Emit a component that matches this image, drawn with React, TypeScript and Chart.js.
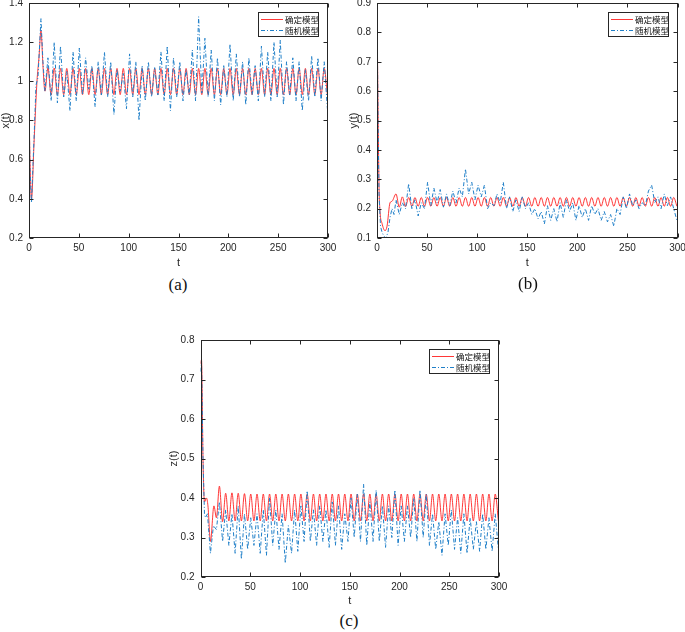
import React, { useEffect, useRef } from 'react';
import { Chart, registerables } from 'chart.js';

Chart.register(...registerables);

// ---------- shared time grid of the steady oscillation (extrema of the deterministic cycle) ----------
const tSteady = [
  19.0, 22.2, 25.3, 28.5, 31.6, 34.8, 37.9, 41.1, 44.2, 47.4,
  50.5, 53.7, 56.8, 60.0, 63.1, 66.3, 69.4, 72.6, 75.7, 78.9,
  82.0, 85.2, 88.3, 91.5, 94.6, 97.8, 100.9, 104.1, 107.2, 110.4,
  113.5, 116.7, 119.8, 123.0, 126.1, 129.3, 132.4, 135.6, 138.7, 141.9,
  145.0, 148.2, 151.3, 154.5, 157.6, 160.8, 163.9, 167.1, 170.2, 173.4,
  176.5, 179.7, 182.8, 186.0, 189.1, 192.3, 195.4, 198.6, 201.7, 204.9,
  208.0, 211.2, 214.3, 217.5, 220.6, 223.8, 226.9, 230.1, 233.2, 236.4,
  239.5, 242.7, 245.8, 249.0, 252.1, 255.3, 258.4, 261.6, 264.7, 267.9,
  271.0, 274.2, 277.3, 280.5, 283.6, 286.8, 289.9, 293.1, 296.2, 299.4,
];

// ---------- (a) x(t) ----------
const tHeadDetA = [0, 1, 2.5, 5, 8, 10, 12, 14, 16];
const headDetA = [0.9, 0.6, 0.4, 0.68, 1.0, 1.12, 1.26, 1.08, 0.95];
const steadyDetA = [
  1.07, 0.93, 1.068, 0.932, 1.066, 0.932, 1.066, 0.932, 1.066, 0.932,
  1.066, 0.932, 1.066, 0.932, 1.066, 0.932, 1.066, 0.932, 1.066, 0.932,
  1.066, 0.932, 1.066, 0.932, 1.066, 0.932, 1.066, 0.932, 1.066, 0.932,
  1.066, 0.932, 1.066, 0.932, 1.066, 0.932, 1.066, 0.932, 1.066, 0.932,
  1.066, 0.932, 1.066, 0.932, 1.066, 0.932, 1.066, 0.932, 1.066, 0.932,
  1.066, 0.932, 1.066, 0.932, 1.066, 0.932, 1.066, 0.932, 1.066, 0.932,
  1.066, 0.932, 1.066, 0.932, 1.066, 0.932, 1.066, 0.932, 1.066, 0.932,
  1.066, 0.932, 1.066, 0.932, 1.066, 0.932, 1.066, 0.932, 1.066, 0.932,
  1.066, 0.932, 1.066, 0.932, 1.066, 0.932, 1.066, 0.932, 1.066, 0.932,
];
const tHeadStoA = [0, 1, 2.5, 5, 7, 9, 12, 14, 16];
const headStoA = [0.88, 0.55, 0.38, 0.7, 0.98, 1.02, 1.32, 1.1, 0.95];
const steadyStoA = [
  1.12, 0.9, 1.2, 0.89, 1.18, 0.92, 1.05, 0.85, 1.15, 0.9,
  1.17, 0.93, 1.12, 0.96, 1.08, 0.87, 1.1, 0.93, 1.15, 0.92,
  1.1, 0.83, 1.06, 0.95, 1.04, 0.86, 1.14, 0.92, 1.1, 0.8,
  1.08, 0.9, 1.1, 0.92, 1.07, 0.93, 1.15, 0.9, 1.18, 0.85,
  1.12, 0.92, 1.1, 0.9, 1.06, 0.93, 1.16, 0.9, 1.33, 0.94,
  1.22, 0.92, 1.16, 0.9, 1.12, 0.88, 1.08, 0.92, 1.19, 0.9,
  1.14, 0.92, 1.1, 0.88, 1.12, 0.93, 1.08, 0.9, 1.18, 0.92,
  1.15, 0.9, 1.2, 0.92, 1.21, 0.88, 1.1, 0.93, 1.12, 0.9,
  1.1, 0.85, 1.06, 0.9, 1.13, 0.92, 1.12, 0.9, 1.1, 0.86,
];

// ---------- (b) y(t) ----------
const tHeadDetB = [0, 1, 2, 3, 5, 8, 10, 13, 15];
const headDetB = [0.9, 0.55, 0.28, 0.19, 0.15, 0.125, 0.14, 0.22, 0.225];
const steadyDetB = [
  0.25, 0.205, 0.24, 0.207, 0.238, 0.208, 0.238, 0.208, 0.238, 0.208,
  0.238, 0.208, 0.238, 0.208, 0.238, 0.208, 0.238, 0.208, 0.238, 0.208,
  0.238, 0.208, 0.238, 0.208, 0.238, 0.208, 0.238, 0.208, 0.238, 0.208,
  0.238, 0.208, 0.238, 0.208, 0.238, 0.208, 0.238, 0.208, 0.238, 0.208,
  0.238, 0.208, 0.238, 0.208, 0.238, 0.208, 0.238, 0.208, 0.238, 0.208,
  0.238, 0.208, 0.238, 0.208, 0.238, 0.208, 0.238, 0.208, 0.238, 0.208,
  0.238, 0.208, 0.238, 0.208, 0.238, 0.208, 0.238, 0.208, 0.238, 0.208,
  0.238, 0.208, 0.238, 0.208, 0.238, 0.208, 0.238, 0.208, 0.238, 0.208,
  0.238, 0.208, 0.238, 0.208, 0.238, 0.208, 0.238, 0.208, 0.238, 0.208,
];
const tHeadStoB = [0, 1, 2, 3.5, 5, 7, 9, 11, 13, 15, 17];
const headStoB = [0.9, 0.5, 0.25, 0.14, 0.12, 0.105, 0.1, 0.12, 0.17, 0.2, 0.18];
const steadyStoB = [
  0.23, 0.18, 0.22, 0.2, 0.285, 0.2, 0.23, 0.175, 0.22, 0.2,
  0.29, 0.21, 0.27, 0.22, 0.265, 0.205, 0.25, 0.21, 0.26, 0.22,
  0.27, 0.24, 0.335, 0.25, 0.29, 0.23, 0.28, 0.24, 0.28, 0.2,
  0.22, 0.21, 0.25, 0.22, 0.29, 0.2, 0.24, 0.19, 0.23, 0.19,
  0.24, 0.2, 0.22, 0.18, 0.2, 0.165, 0.19, 0.148, 0.21, 0.16,
  0.2, 0.155, 0.22, 0.17, 0.23, 0.19, 0.22, 0.16, 0.21, 0.17,
  0.2, 0.16, 0.21, 0.18, 0.2, 0.16, 0.19, 0.155, 0.18, 0.14,
  0.2, 0.18, 0.24, 0.2, 0.25, 0.21, 0.23, 0.2, 0.22, 0.21,
  0.26, 0.28, 0.22, 0.24, 0.2, 0.25, 0.21, 0.24, 0.2, 0.16,
];

// ---------- (c) z(t) ----------
const tHeadDetC = [0, 1, 2.5, 4, 6, 7.5, 10, 13.5, 16];
const headDetC = [0.74, 0.75, 0.5, 0.39, 0.4, 0.38, 0.29, 0.38, 0.35];
const steadyDetC = [
  0.43, 0.34, 0.412, 0.342, 0.413, 0.342, 0.412, 0.342, 0.411, 0.342,
  0.41, 0.342, 0.41, 0.342, 0.41, 0.342, 0.41, 0.342, 0.41, 0.342,
  0.41, 0.342, 0.41, 0.342, 0.41, 0.342, 0.41, 0.342, 0.41, 0.342,
  0.41, 0.342, 0.41, 0.342, 0.41, 0.342, 0.41, 0.342, 0.41, 0.342,
  0.41, 0.342, 0.41, 0.342, 0.41, 0.342, 0.41, 0.342, 0.41, 0.342,
  0.41, 0.342, 0.41, 0.342, 0.41, 0.342, 0.41, 0.342, 0.41, 0.342,
  0.41, 0.342, 0.41, 0.342, 0.41, 0.342, 0.41, 0.342, 0.41, 0.342,
  0.41, 0.342, 0.41, 0.342, 0.41, 0.342, 0.41, 0.342, 0.41, 0.342,
  0.41, 0.342, 0.41, 0.342, 0.41, 0.342, 0.41, 0.342, 0.41, 0.342,
];
const tHeadStoC = [0, 1, 2.5, 4, 5, 7, 10, 13, 16];
const headStoC = [0.72, 0.75, 0.5, 0.36, 0.35, 0.36, 0.26, 0.33, 0.32];
const steadyStoC = [
  0.39, 0.29, 0.37, 0.28, 0.36, 0.26, 0.38, 0.245, 0.36, 0.27,
  0.35, 0.28, 0.36, 0.26, 0.37, 0.255, 0.4, 0.28, 0.37, 0.27,
  0.36, 0.235, 0.33, 0.26, 0.37, 0.265, 0.38, 0.29, 0.418, 0.29,
  0.37, 0.28, 0.38, 0.29, 0.37, 0.275, 0.39, 0.28, 0.38, 0.27,
  0.36, 0.29, 0.4, 0.3, 0.41, 0.29, 0.435, 0.28, 0.39, 0.29,
  0.42, 0.29, 0.38, 0.275, 0.38, 0.3, 0.42, 0.28, 0.38, 0.29,
  0.38, 0.3, 0.4, 0.29, 0.42, 0.3, 0.41, 0.28, 0.36, 0.27,
  0.34, 0.255, 0.36, 0.28, 0.37, 0.27, 0.35, 0.26, 0.36, 0.26,
  0.35, 0.27, 0.34, 0.265, 0.36, 0.27, 0.35, 0.265, 0.36, 0.27,
];

// ---------- ticks & labels ----------
const xTicks = [0, 50, 100, 150, 200, 250, 300];
const yTicksA = [0.2, 0.4, 0.6, 0.8, 1, 1.2, 1.4];
const yTicksB = [0.1, 0.2, 0.3, 0.4, 0.5, 0.6, 0.7, 0.8, 0.9];
const yTicksC = [0.2, 0.3, 0.4, 0.5, 0.6, 0.7, 0.8];
const legendLabels = ['确定模型', '随机模型'];

const RED = 'rgba(255,20,20,0.85)';
const BLUE = '#1f7fc8';
const BLUE_DASH = [4, 2, 1, 2];
const AXIS = '#262626';
const TICK_FONT = { family: '"Liberation Sans", Arial, sans-serif', size: 10 };

type PanelCfg = {
  left: number; top: number; width: number; height: number;
  area: { l: number; t: number; r: number; b: number };
  yMin: number; yMax: number; yTicks: number[];
  yTitle: string; yTitlePad: number; xTitlePad: number;
  tDet: number[]; det: number[]; tSto: number[]; sto: number[];
  caption: string; capX: number; capY: number;
};

const pts = (ts: number[], ys: number[]) => ts.map((t, i) => ({ x: t, y: ys[i] }));

const panels: PanelCfg[] = [
  {
    left: 0, top: 0, width: 345, height: 275, area: { l: 29, t: 3, r: 328, b: 238 },
    yMin: 0.2, yMax: 1.4, yTicks: yTicksA, yTitle: 'x(t)', yTitlePad: 0, xTitlePad: 6.5,
    tDet: [...tHeadDetA, ...tSteady], det: [...headDetA, ...steadyDetA],
    tSto: [...tHeadStoA, ...tSteady], sto: [...headStoA, ...steadyStoA],
    caption: '(a)', capX: 178, capY: 285,
  },
  {
    left: 345, top: 0, width: 340, height: 275, area: { l: 377, t: 3, r: 677.5, b: 238 },
    yMin: 0.1, yMax: 0.9, yTicks: yTicksB, yTitle: 'y(t)', yTitlePad: 3, xTitlePad: 6.5,
    tDet: [...tHeadDetB, ...tSteady], det: [...headDetB, ...steadyDetB],
    tSto: [...tHeadStoB, ...tSteady], sto: [...headStoB, ...steadyStoB],
    caption: '(b)', capX: 528, capY: 284,
  },
  {
    left: 165, top: 330, width: 350, height: 280, area: { l: 200.5, t: 340, r: 499, b: 577 },
    yMin: 0.2, yMax: 0.8, yTicks: yTicksC, yTitle: 'z(t)', yTitlePad: 3, xTitlePad: 3.5,
    tDet: [...tHeadDetC, ...tSteady], det: [...headDetC, ...steadyDetC],
    tSto: [...tHeadStoC, ...tSteady], sto: [...headStoC, ...steadyStoC],
    caption: '(c)', capX: 349, capY: 621,
  },
];

const framePlugin = {
  id: 'panelFrame',
  afterDatasetsDraw(chart: any) {
    const { ctx, chartArea: a, scales } = chart;
    const L = Math.round(a.left) + 0.5;
    const R = Math.round(a.right) - 0.5;
    const T = Math.round(a.top) + 0.5;
    const B = Math.round(a.bottom) - 0.5;
    ctx.save();
    ctx.setLineDash([]);
    ctx.strokeStyle = AXIS;
    ctx.lineWidth = 1;
    ctx.strokeRect(L, T, R - L, B - T);
    const tl = 4;
    ctx.beginPath();
    for (const tk of scales.x.ticks) {
      const px = Math.round(scales.x.getPixelForValue(tk.value)) + 0.5;
      ctx.moveTo(px, B); ctx.lineTo(px, B - tl);
      ctx.moveTo(px, T); ctx.lineTo(px, T + tl);
    }
    for (const tk of scales.y.ticks) {
      const py = Math.round(scales.y.getPixelForValue(tk.value)) + 0.5;
      ctx.moveTo(L, py); ctx.lineTo(L + tl, py);
      ctx.moveTo(R, py); ctx.lineTo(R - tl, py);
    }
    ctx.stroke();
    ctx.restore();
  },
};

function LegendBox({ cfg }: { cfg: PanelCfg }) {
  const w = 61, h = 25, inset = 9;
  const left = Math.round(cfg.area.r - inset - w);
  const top = Math.round(cfg.area.t + inset);
  const styles = [
    { color: RED, dash: '' },
    { color: BLUE, dash: BLUE_DASH.join(' ') },
  ];
  return (
    <div
      style={{
        position: 'absolute', left, top, width: w, height: h, boxSizing: 'border-box',
        border: `1px solid ${AXIS}`, background: '#fff', padding: '0 0 0 2px',
      }}
    >
      {legendLabels.map((label, i) => (
        <div key={label} style={{ display: 'flex', alignItems: 'center', height: 11.5, marginTop: i === 0 ? 0.5 : 0 }}>
          <svg width={22} height={3} style={{ display: 'block', flex: '0 0 auto' }}>
            <line x1={0} y1={1.5} x2={22} y2={1.5} stroke={styles[i].color} strokeWidth={1}
              strokeDasharray={styles[i].dash || undefined} />
          </svg>
          <span
            style={{
              marginLeft: 2, fontFamily: '"Noto Sans CJK SC", sans-serif', fontSize: 8.5,
              lineHeight: '11px', color: '#111', whiteSpace: 'nowrap',
            }}
          >
            {label}
          </span>
        </div>
      ))}
    </div>
  );
}

function Panel({ cfg }: { cfg: PanelCfg }) {
  const ref = useRef<HTMLCanvasElement>(null);
  useEffect(() => {
    const c = cfg;
    const yAxisW = c.area.l - c.left;
    const xAxisH = c.top + c.height - c.area.b;
    const chart = new Chart(ref.current as HTMLCanvasElement, {
      type: 'line',
      data: {
        datasets: [
          {
            label: legendLabels[0],
            data: pts(c.tDet, c.det),
            borderColor: RED,
            borderWidth: 1,
            pointRadius: 0,
            cubicInterpolationMode: 'monotone',
            order: 2,
          } as any,
          {
            label: legendLabels[1],
            data: pts(c.tSto, c.sto),
            borderColor: BLUE,
            borderWidth: 1,
            borderDash: BLUE_DASH,
            pointRadius: 0,
            tension: 0,
            order: 1,
          } as any,
        ],
      },
      options: {
        animation: false,
        responsive: false,
        maintainAspectRatio: false,
        layout: {
          padding: { left: 0, bottom: 0, top: c.area.t - c.top, right: c.left + c.width - c.area.r },
        },
        plugins: { legend: { display: false }, tooltip: { enabled: false } },
        scales: {
          x: {
            type: 'linear',
            min: 0,
            max: 300,
            grid: { display: false, drawTicks: false },
            border: { display: false },
            afterBuildTicks: (s: any) => { s.ticks = xTicks.map((v) => ({ value: v })); },
            afterFit: (s: any) => { s.height = xAxisH; s.paddingLeft = 0; s.paddingRight = 0; },
            ticks: {
              padding: 4, color: AXIS, font: TICK_FONT, maxRotation: 0, autoSkip: false,
              callback: (v: any) => String(v),
            },
            title: {
              display: true, text: 't', color: AXIS,
              font: { family: '"Liberation Sans", Arial, sans-serif', size: 11, lineHeight: 1 },
              padding: { top: 0, bottom: c.xTitlePad },
            },
          },
          y: {
            type: 'linear',
            min: c.yMin,
            max: c.yMax,
            grid: { display: false, drawTicks: false },
            border: { display: false },
            afterBuildTicks: (s: any) => { s.ticks = c.yTicks.map((v) => ({ value: v })); },
            afterFit: (s: any) => { s.width = yAxisW; s.paddingTop = 0; s.paddingBottom = 0; },
            ticks: {
              padding: 6, color: AXIS, font: TICK_FONT, autoSkip: false,
              callback: (v: any) => String(Number(Number(v).toFixed(2))),
            },
            title: {
              display: true, text: c.yTitle, color: AXIS,
              font: { family: '"Liberation Sans", Arial, sans-serif', size: 11, lineHeight: 1 },
              padding: { top: c.yTitlePad, bottom: 0 },
            },
          },
        },
      } as any,
      plugins: [framePlugin],
    });
    return () => chart.destroy();
  }, [cfg]);
  return (
    <canvas
      ref={ref}
      width={cfg.width}
      height={cfg.height}
      style={{ position: 'absolute', left: cfg.left, top: cfg.top, width: cfg.width, height: cfg.height }}
    />
  );
}

export default function App() {
  return (
    <div style={{ position: 'absolute', left: 0, top: 0, width: 685, height: 632, background: '#fff', overflow: 'hidden' }}>
      {panels.map((p) => (
        <React.Fragment key={p.caption}>
          <Panel cfg={p} />
          <LegendBox cfg={p} />
          <div
            style={{
              position: 'absolute', left: p.capX, top: p.capY, transform: 'translate(-50%, -50%)',
              fontFamily: '"Liberation Serif", "DejaVu Serif", serif', fontSize: 17, color: '#111', whiteSpace: 'nowrap',
            }}
          >
            {p.caption}
          </div>
        </React.Fragment>
      ))}
    </div>
  );
}
